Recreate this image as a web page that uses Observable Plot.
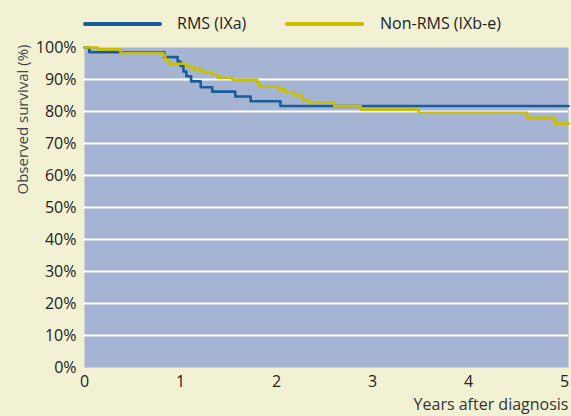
<!DOCTYPE html>
<html>
<head>
<meta charset="utf-8">
<script src="https://cdn.jsdelivr.net/npm/d3@7"></script>
<script src="https://cdn.jsdelivr.net/npm/@observablehq/plot@0.6"></script>
<style>
  html, body { margin: 0; padding: 0; background: #f3f1d4; }
  #wrap { position: relative; width: 571px; height: 416px; overflow: hidden; font-family: "Open Sans", sans-serif; }
  #legend { position: absolute; left: 0; top: 0; width: 571px; height: 40px; }
  .sw { position: absolute; top: 22px; height: 4px; border-radius: 2px; }
  .lt { position: absolute; top: 12px; font-size: 16px; color: #222; line-height: 22px; white-space: nowrap; }
  #chart { position: absolute; left: 0; top: 0; }
</style>
</head>
<body>
<div id="wrap">
  <div id="chart"></div>
  <div id="legend"></div>
</div>
<script>
// Series names and colours
const seriesNames = ["RMS (IXa)", "Non-RMS (IXb-e)"];
const seriesColors = ["#1a5c9a", "#c8bf00"];

// RMS (IXa): step points (years after diagnosis, observed survival %)
const rmsYears    = [0, 0.05, 0.83, 0.97, 1.00, 1.03, 1.06, 1.11, 1.21, 1.33, 1.57, 1.73, 2.04, 5.04];
const rmsSurvival = [100, 98.5, 97.0, 95.6, 94.2, 92.5, 91.0, 89.4, 87.6, 86.2, 84.7, 83.2, 81.7, 81.7];

// Non-RMS (IXb-e)
const nonYears    = [0, 0.14, 0.375, 0.82, 0.84, 0.88, 1.07, 1.14, 1.23, 1.33, 1.39, 1.54, 1.80, 1.82, 2.02, 2.09, 2.19, 2.27, 2.34, 2.60, 2.875, 3.48, 4.61, 4.90, 5.04];
const nonSurvival = [100, 99.4, 98.3, 97.5, 96.2, 94.9, 93.9, 93.1, 92.3, 91.5, 90.5, 89.9, 89.0, 87.9, 86.9, 86.0, 85.0, 83.6, 82.9, 81.7, 80.6, 79.6, 78.0, 76.2, 76.2];

// Axis ticks
const yTicks = [0, 10, 20, 30, 40, 50, 60, 70, 80, 90, 100];
const xTicks = [0, 1, 2, 3, 4, 5];
const gridLines = [10, 20, 30, 40, 50, 60, 70, 80, 90];
const xLabel = "Years after diagnosis";
const yLabel = "Observed survival (%)";

const rms = rmsYears.map((t, i) => ({t, s: rmsSurvival[i]}));
const non = nonYears.map((t, i) => ({t, s: nonSurvival[i]}));

const chart = Plot.plot({
  width: 571,
  height: 416,
  marginLeft: 84,
  marginRight: 3,
  marginTop: 47,
  marginBottom: 49,
  style: {background: "transparent", fontFamily: "Open Sans, sans-serif", fontSize: "16px", color: "#222"},
  x: {domain: [0, 5.04]},
  y: {domain: [0, 100]},
  marks: [
    Plot.frame({fill: "#a6b4d3", stroke: null}),
    Plot.ruleY(gridLines, {stroke: "white", strokeWidth: 2.2}),
    Plot.axisX({ticks: xTicks, tickSize: 0, tickPadding: 8, tickFormat: d3.format("d"), label: null, fill: "#222", fontSize: 16}),
    Plot.axisY({ticks: yTicks, tickSize: 0, tickPadding: 8, tickFormat: d => d + "%", label: null, fill: "#222", fontSize: 16}),
    Plot.line(rms, {x: "t", y: "s", curve: "step-after", stroke: seriesColors[0], strokeWidth: 2.6}),
    Plot.line(non, {x: "t", y: "s", curve: "step-after", stroke: seriesColors[1], strokeWidth: 2.6}),
    Plot.text([xLabel], {frameAnchor: "bottom-right", dy: 42, textAnchor: "end", fill: "#333", fontSize: 16}),
    Plot.text([yLabel], {frameAnchor: "top-left", dx: -67, dy: 72, rotate: -90, textAnchor: "middle", fill: "#444", fontSize: 15})
  ]
});
document.getElementById("chart").appendChild(chart);

// Legend
const legend = document.getElementById("legend");
const legendPos = [{sx: 83, sw: 79, tx: 177}, {sx: 285, sw: 79, tx: 380}];
seriesNames.forEach((name, i) => {
  const sw = document.createElement("div");
  sw.className = "sw";
  sw.style.left = legendPos[i].sx + "px";
  sw.style.width = legendPos[i].sw + "px";
  sw.style.background = seriesColors[i];
  legend.appendChild(sw);
  const t = document.createElement("div");
  t.className = "lt";
  t.style.left = legendPos[i].tx + "px";
  t.textContent = name;
  legend.appendChild(t);
});
</script>
</body>
</html>
